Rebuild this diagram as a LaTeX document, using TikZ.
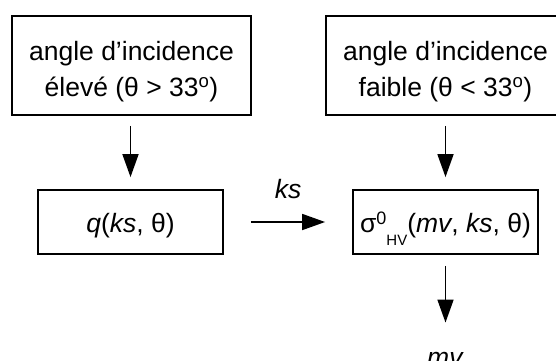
\documentclass[tikz,border=0pt]{standalone}
\usepackage{fontspec}
\setmainfont{Liberation Sans}
\usetikzlibrary{arrows.meta}
\tikzset{
  base font/.style={font=\fontsize{26.5}{36}\selectfont},
  topbox/.style={base font, draw, line width=1.8pt, rectangle, minimum width=239pt, minimum height=99pt, inner sep=0pt, align=center},
  botbox/.style={base font, draw, line width=1.8pt, rectangle, minimum width=185pt, minimum height=64pt, inner sep=0pt, text height=25pt, text depth=5pt},
  flow/.style={line width=1.7pt, -{Triangle[length=23pt,width=16pt]}},
  lbl/.style={base font, inner sep=0pt, anchor=base}
}
\begin{document}
\begin{tikzpicture}[x=1pt,y=-1pt]
\path[use as bounding box, clip] (0,0) rectangle (556,360);
\node[topbox] (b1) at (131.5,65.5) {\rule{0pt}{30.6pt}angle d’incidence\\élevé (θ > 33\textsuperscript{o})};
\node[topbox] (b2) at (445.5,65.5) {\rule{0pt}{30.6pt}angle d’incidence\\faible (θ < 33\textsuperscript{o})};
\node[botbox] (b3) at (130.5,222) {\textit{q}(\textit{ks}, θ)};
\node[botbox] (b4) at (445.5,222) {σ\raisebox{8pt}{\fontsize{18}{18}\selectfont 0}\raisebox{-13pt}{\fontsize{15}{15}\selectfont HV}(\textit{mv}, \textit{ks}, θ)};
\node[lbl] (mv) at (445.5,366) {\textit{mv}};
\draw[flow, shorten <=10pt, shorten >=12pt] (b3.north |- b1.south) -- (b3.north);
\draw[flow, shorten <=10pt, shorten >=12pt] (b2.south) -- (b4.north);
\draw[flow, shorten <=27pt, shorten >=27pt] (b3.east) -- node[lbl, pos=0.5, yshift=24pt] (ks) {\textit{ks}} (b4.west);
\draw[flow, shorten <=11pt, shorten >=29pt] (b4.south) -- (b4.south |- mv.north);
\end{tikzpicture}
\end{document}
